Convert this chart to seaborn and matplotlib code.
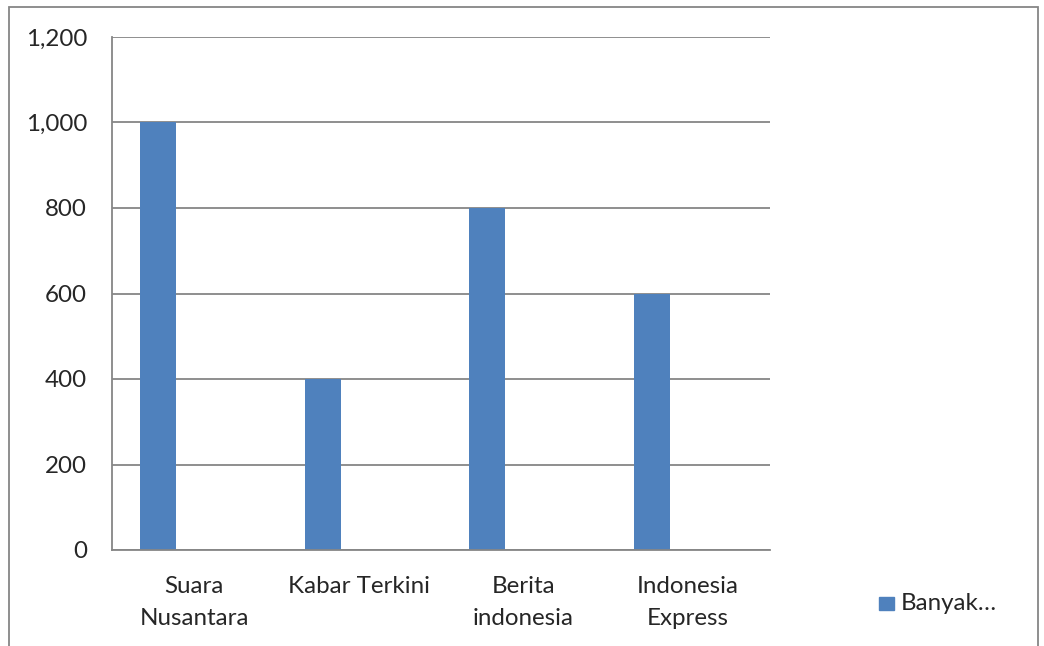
import matplotlib
matplotlib.use("Agg")
import matplotlib.pyplot as plt
from matplotlib.patches import Rectangle
from matplotlib.ticker import FuncFormatter
import seaborn as sns
import pandas as pd
import numpy as np

# Data
kategori = ["Suara\nNusantara", "Kabar Terkini", "Berita\nindonesia", "Indonesia\nExpress"]
banyak = [1000, 400, 800, 600]
# seri lain kosong (hanya menggeser posisi batang seperti di Excel)
seri_kosong = [np.nan, np.nan, np.nan, np.nan]
nama_seri = ["Banyak…", "Seri2", "Seri3"]

rows = []
for i, k in enumerate(kategori):
    rows.append({"kategori": k, "seri": nama_seri[0], "nilai": banyak[i]})
    rows.append({"kategori": k, "seri": nama_seri[1], "nilai": seri_kosong[i]})
    rows.append({"kategori": k, "seri": nama_seri[2], "nilai": seri_kosong[i]})
df = pd.DataFrame(rows)

sns.set_style("white")
plt.rcParams['font.family'] = ['Lato', 'DejaVu Sans']

fig = plt.figure(figsize=(10.44, 6.46), dpi=100)
ax = fig.add_axes([112/1044, 1 - 550/646, (770 - 112)/1044, (550 - 37)/646])

biru = "#4F81BD"
sns.barplot(data=df, x="kategori", y="nilai", hue="seri", hue_order=nama_seri,
            order=kategori, palette=[biru, biru, biru], width=0.657,
            dodge=True, ax=ax, legend=False, errorbar=None, saturation=1,
            linewidth=0)

abu = "#868686"
fs = 17.4
ax.set_xlim(-0.5, 3.5)
ax.set_ylim(0, 1200)
ax.set_yticks(range(0, 1201, 200))
ax.yaxis.set_major_formatter(FuncFormatter(lambda v, p: f"{int(v):,}"))
ax.grid(axis="y", color=abu, linewidth=1.3)
ax.set_axisbelow(True)
ax.set_xlabel("")
ax.set_ylabel("")

for s in ["top", "right"]:
    ax.spines[s].set_visible(False)
for s in ["left", "bottom"]:
    ax.spines[s].set_color(abu)
    ax.spines[s].set_linewidth(1.3)

ax.set_xticks(range(len(kategori)))
ax.set_xticklabels(kategori, fontsize=fs, linespacing=1.6)
ax.set_xticks([-0.5, 0.5, 1.5, 2.5, 3.5], minor=True)
ax.tick_params(axis="x", which="major", length=0, pad=19)
ax.tick_params(axis="x", which="minor", length=6, width=1.3, color=abu, direction="out")
ax.tick_params(axis="y", length=6, width=1.3, color=abu, direction="out", pad=12, labelsize=fs)

# legenda
fig.add_artist(Rectangle((879/1044, 1 - 610/646), 15/1044, 13/646,
                         transform=fig.transFigure, color=biru))
fig.text(901/1044, 1 - 603/646, "Banyak…", fontsize=fs, va="center", ha="left")

# bingkai luar
fig.add_artist(Rectangle((9/1044, -0.05), (1038 - 9)/1044, 1.05 - 7/646,
                         transform=fig.transFigure, fill=False, edgecolor=abu, linewidth=1.3))

fig.savefig("out.png", dpi=100)
